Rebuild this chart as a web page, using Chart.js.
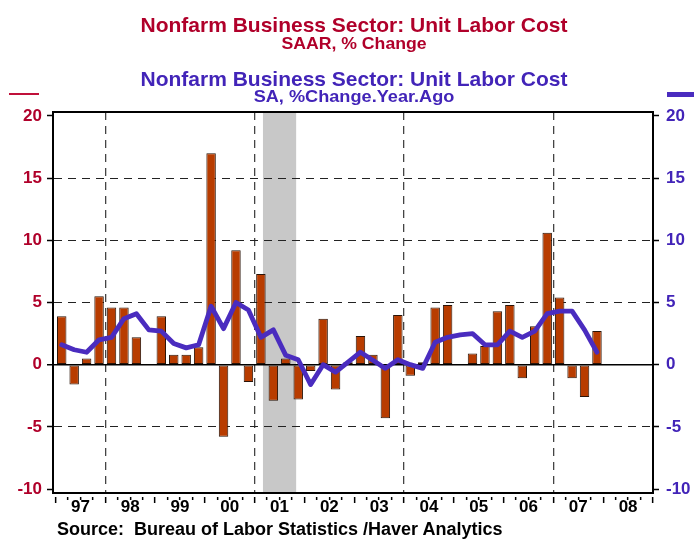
<!DOCTYPE html>
<html>
<head>
<meta charset="utf-8">
<script src="https://cdn.jsdelivr.net/npm/chart.js@4.4.1/dist/chart.umd.min.js"></script>
<style>
  html, body { margin: 0; padding: 0; background: #fff; }
  #wrap { position: relative; width: 694px; height: 539px; overflow: hidden; font-family: "Liberation Sans", Arial, sans-serif; }
  #wrap canvas { position: absolute; left: 0; top: 0; }
  .txt { position: absolute; left: 0; width: 708px; text-align: center; line-height: 1; white-space: nowrap; font-weight: bold; transform-origin: 354px 50%; }
  .red { color: #b0002a; }
  .blue { color: #4224b8; }
  .swatch { position: absolute; }
</style>
</head>
<body>
<div id="wrap">
  <canvas id="chart" width="694" height="539"></canvas>
  <div class="txt red" style="top:14px;font-size:21px;">Nonfarm Business Sector: Unit Labor Cost</div>
  <div class="txt red" style="top:35px;font-size:16.5px;transform:scaleX(1.07)">SAAR, % Change</div>
  <div class="txt blue" style="top:68px;font-size:21px;">Nonfarm Business Sector: Unit Labor Cost</div>
  <div class="txt blue" style="top:88px;font-size:16.5px;transform:scaleX(1.1)">SA, %Change.Year.Ago</div>
  <div class="swatch" style="left:9px;top:93px;width:30px;height:2px;background:#c0103a"></div>
  <div class="swatch" style="left:667px;top:92px;width:27px;height:5px;background:#4a2cbf"></div>
  <div style="position:absolute;left:57px;top:520px;font-size:18px;font-weight:bold;line-height:1;white-space:nowrap;color:#000">Source:&nbsp; Bureau of Labor Statistics /Haver Analytics</div>
</div>
<script>
// Quarterly observations, 1997Q1 - 2007Q4
const quarters = [
  '1997Q1', '1997Q2', '1997Q3', '1997Q4',
  '1998Q1', '1998Q2', '1998Q3', '1998Q4',
  '1999Q1', '1999Q2', '1999Q3', '1999Q4',
  '2000Q1', '2000Q2', '2000Q3', '2000Q4',
  '2001Q1', '2001Q2', '2001Q3', '2001Q4',
  '2002Q1', '2002Q2', '2002Q3', '2002Q4',
  '2003Q1', '2003Q2', '2003Q3', '2003Q4',
  '2004Q1', '2004Q2', '2004Q3', '2004Q4',
  '2005Q1', '2005Q2', '2005Q3', '2005Q4',
  '2006Q1', '2006Q2', '2006Q3', '2006Q4',
  '2007Q1', '2007Q2', '2007Q3', '2007Q4'
];

// Unit labor cost, SAAR % change (bars, left axis)
const ulcSaar = [
  3.9, -1.6, 0.5, 5.5,
  4.6, 4.6, 2.2, 0.0,
  3.9, 0.8, 0.8, 1.4,
  17.0, -5.8, 9.2, -1.4,
  7.3, -2.9, 0.5, -2.8,
  -0.5, 3.7, -2.0, 0.2,
  2.3, 0.8, -4.3, 4.0,
  -0.9, 0.2, 4.6, 4.8,
  0.0, 0.9, 1.5, 4.3,
  4.8, -1.1, 3.1, 10.6,
  5.4, -1.1, -2.6, 2.7
];

// Unit labor cost, % change year ago (line, right axis)
const ulcYoY = [
  1.6, 1.2, 1.0, 2.0,
  2.2, 3.7, 4.1, 2.8,
  2.7, 1.7, 1.35, 1.6,
  4.7, 2.9, 5.0, 4.4,
  2.2, 2.8, 0.75, 0.4,
  -1.6, 0.0, -0.6, 0.2,
  1.0, 0.35, -0.3, 0.4,
  0.0, -0.3, 1.8, 2.2,
  2.4, 2.5, 1.6, 1.6,
  2.7, 2.2, 2.7, 4.1,
  4.3, 4.3, 2.8, 1.0
];

const years = [1997, 1998, 1999, 2000, 2001, 2002, 2003, 2004, 2005, 2006, 2007, 2008];
const yearLabels = ['97', '98', '99', '00', '01', '02', '03', '04', '05', '06', '07', '08'];
const dashedYears = [1998, 2001, 2004, 2007];
const yTicks = [-10, -5, 0, 5, 10, 15, 20];
const recessions = [['2001-03', '2001-11']];

const RED = '#b0002a';
const BLUE = '#4224b8';

// '1997Q1' -> middle of that quarter on a decimal-year axis
function quarterToX(q) {
  const year = parseInt(q.slice(0, 4), 10);
  const n = parseInt(q.slice(5), 10);
  return year + (n - 0.5) / 4;
}
function monthToX(m) {
  const [y, mo] = m.split('-').map(Number);
  return y + (mo - 1) / 12;
}

const xMin = years[0] - 0.05;
const xMax = years[years.length - 1] + 1;

const xTicks = [];
years.forEach((y) => {
  for (let q = 0; q < 4; q++) xTicks.push({ value: y + q / 4 });
});
xTicks.push({ value: xMax });

const recessionPlugin = {
  id: 'recession',
  beforeDraw(chart) {
    const { ctx, chartArea, scales } = chart;
    ctx.save();
    ctx.fillStyle = '#c8c8c8';
    recessions.forEach(([a, b]) => {
      const x1 = scales.x.getPixelForValue(monthToX(a));
      const x2 = scales.x.getPixelForValue(monthToX(b));
      ctx.fillRect(x1, chartArea.top, x2 - x1, chartArea.bottom - chartArea.top);
    });
    ctx.restore();
  }
};

const tickVal = (c) => (c.tick ? c.tick.value : null);

const ctx = document.getElementById('chart').getContext('2d');
new Chart(ctx, {
  type: 'bar',
  data: {
    datasets: [
      {
        type: 'line',
        label: 'SA, %Change.Year.Ago',
        data: quarters.map((q, i) => ({ x: quarterToX(q), y: ulcYoY[i] })),
        xAxisID: 'x',
        yAxisID: 'y2',
        borderColor: '#4a2cbf',
        borderWidth: 4.8,
        borderJoinStyle: 'round',
        borderCapStyle: 'round',
        pointRadius: 0,
        tension: 0,
        order: 0
      },
      {
        type: 'bar',
        label: 'SAAR, % Change',
        data: quarters.map((q, i) => ({ x: quarterToX(q), y: ulcSaar[i] })),
        xAxisID: 'x',
        yAxisID: 'y',
        backgroundColor: '#b83c00',
        borderColor: '#2a1408',
        borderWidth: 1,
        borderSkipped: false,
        barPercentage: 0.76,
        categoryPercentage: 1,
        order: 1
      }
    ]
  },
  options: {
    responsive: false,
    animation: false,
    layout: { padding: 0 },
    plugins: {
      legend: { display: false },
      tooltip: { enabled: false },
      title: { display: false }
    },
    scales: {
      x: {
        type: 'linear',
        position: 'bottom',
        min: xMin,
        max: xMax,
        offset: false,
        afterBuildTicks: (s) => { s.ticks = xTicks.map((t) => ({ value: t.value })); },
        afterFit: (s) => { s.height = 46; },
        ticks: {
          autoSkip: false,
          maxRotation: 0,
          minRotation: 0,
          padding: -6,
          color: '#000',
          font: { family: 'Liberation Sans', size: 17, weight: 'bold' },
          callback: (value) => {
            const frac = Math.round((value % 1) * 100) / 100;
            if (frac !== 0.5) return '';
            const idx = years.indexOf(Math.floor(value));
            return idx >= 0 ? yearLabels[idx] : '';
          }
        },
        grid: {
          offset: false,
          color: (c) => (dashedYears.includes(tickVal(c)) ? '#444' : 'rgba(0,0,0,0)'),
          lineWidth: 1.3,
          tickColor: '#000',
          tickWidth: 1.5,
          tickLength: 10,
          tickBorderDash: (c) => (Number.isInteger(tickVal(c)) ? [0, 3, 7, 99] : [0, 3, 3, 99])
        },
        border: {
          display: true,
          color: '#000',
          width: 2,
          dash: (c) => (c.tick ? [8, 6] : [])
        }
      },
      xTop: {
        type: 'linear',
        position: 'top',
        min: xMin,
        max: xMax,
        afterFit: (s) => { s.height = 112; },
        ticks: { display: false },
        grid: { display: false },
        border: { display: true, color: '#000', width: 2 }
      },
      y: {
        type: 'linear',
        position: 'left',
        min: -10.32,
        max: 20.32,
        afterBuildTicks: (s) => { s.ticks = yTicks.map((v) => ({ value: v })); },
        afterFit: (s) => { s.width = 53; },
        ticks: {
          color: RED,
          padding: 5,
          font: { family: 'Liberation Sans', size: 17, weight: 'bold' }
        },
        grid: {
          color: (c) => {
            const v = tickVal(c);
            if (v === 0) return '#000';
            if (v === yTicks[0] || v === yTicks[yTicks.length - 1]) return 'rgba(0,0,0,0)';
            return '#222';
          },
          lineWidth: (c) => (tickVal(c) === 0 ? 1.5 : 1),
          tickColor: '#000',
          tickWidth: 1.5,
          tickLength: 6
        },
        border: {
          display: true,
          color: '#000',
          width: 2,
          dash: (c) => (c.tick && c.tick.value !== 0 ? [8, 6] : [])
        }
      },
      y2: {
        type: 'linear',
        position: 'right',
        min: -10.32,
        max: 20.32,
        afterBuildTicks: (s) => { s.ticks = yTicks.map((v) => ({ value: v })); },
        afterFit: (s) => { s.width = 41; },
        ticks: {
          color: BLUE,
          padding: 7,
          font: { family: 'Liberation Sans', size: 17, weight: 'bold' }
        },
        grid: {
          drawOnChartArea: false,
          tickColor: '#000',
          tickWidth: 1.5,
          tickLength: 6
        },
        border: { display: true, color: '#000', width: 2 }
      }
    }
  },
  plugins: [recessionPlugin]
});
</script>
</body>
</html>
